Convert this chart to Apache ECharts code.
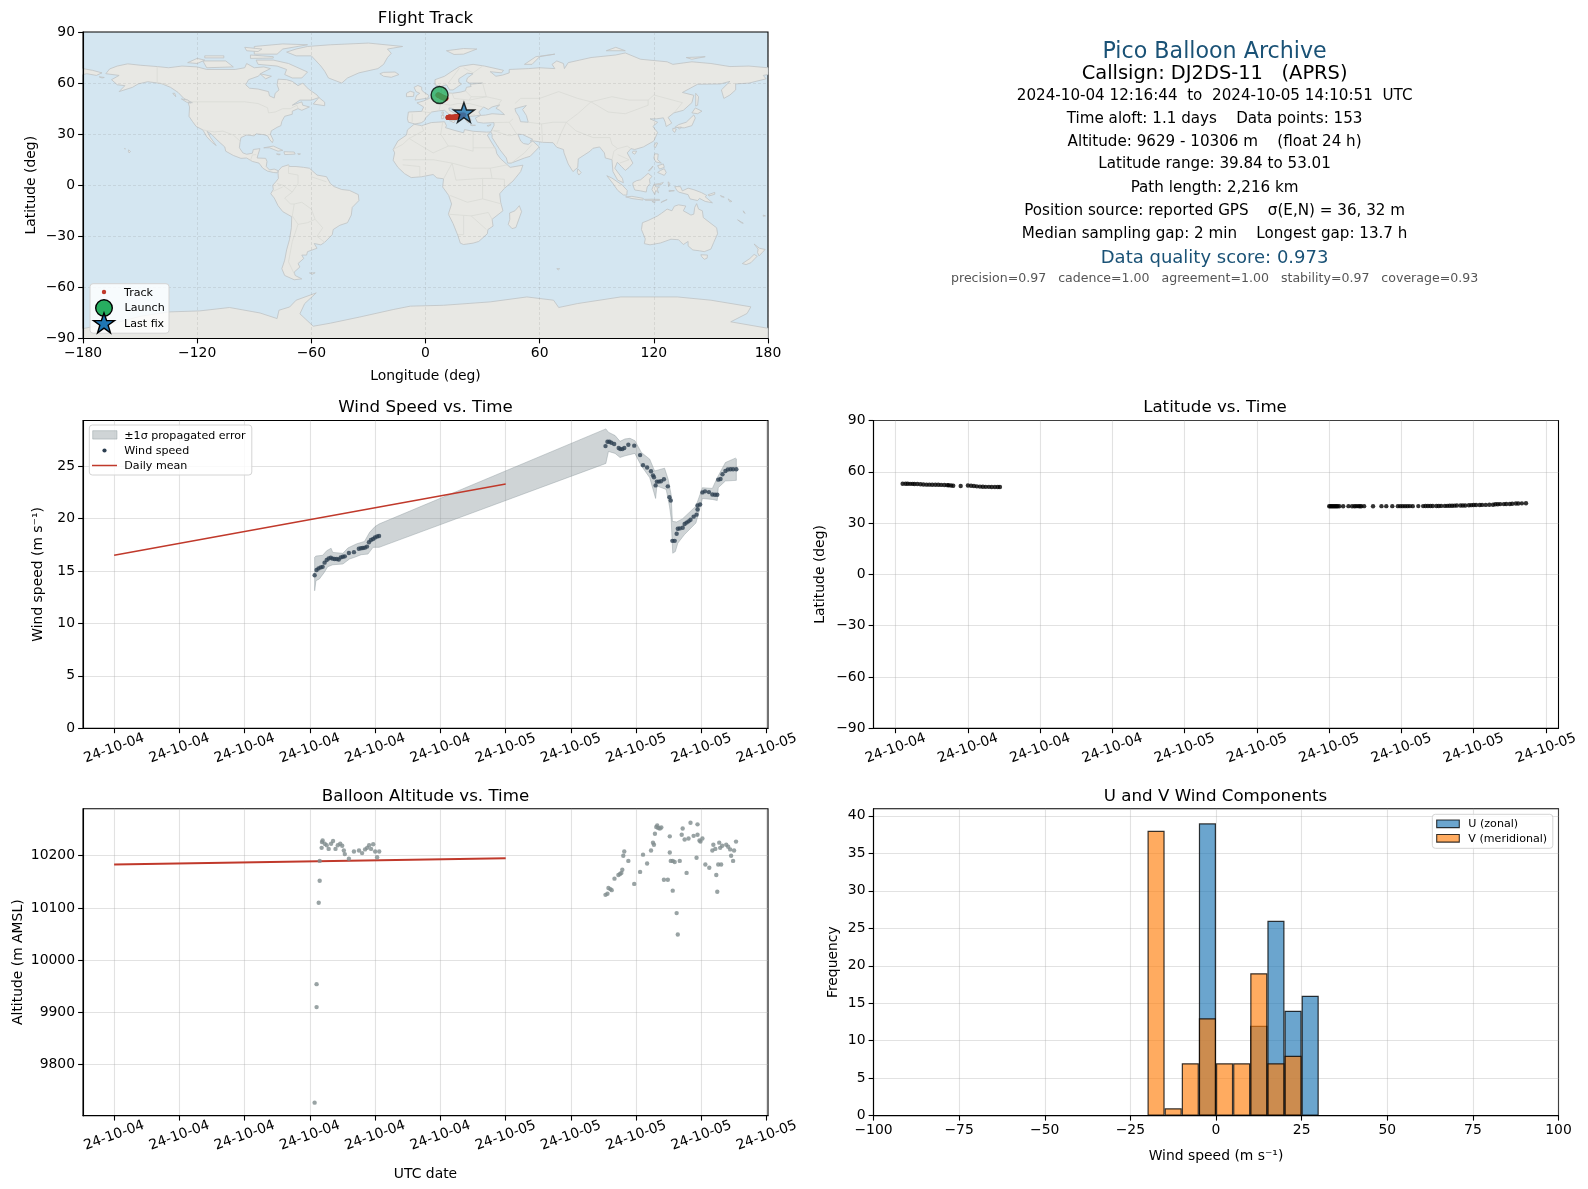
<!DOCTYPE html>
<html><head><meta charset="utf-8">
<style>html,body{margin:0;padding:0;background:#fff}#c{width:1588px;height:1189px}</style>
<script src="https://cdn.jsdelivr.net/npm/echarts@6/dist/echarts.min.js"></script>
</head><body><div id="c"></div>
<script>
// ---- chart data (time in hours since 2024-10-04 00:00 UTC) ----
const windTimes=[12.29,12.41,12.53,12.66,12.78,12.9,13.03,13.15,13.28,13.4,13.52,13.65,13.77,13.89,14.02,14.14,14.39,14.7,15.0,15.13,15.25,15.37,15.5,15.62,15.74,15.87,15.99,16.12,16.24,
30.12,30.24,30.36,30.48,30.65,30.93,31.03,31.15,31.27,31.52,31.88,32.24,32.42,32.67,32.91,33.03,33.09,33.19,33.27,33.39,33.52,33.7,33.94,34.04,34.12,34.22,34.36,34.48,34.55,34.67,34.85,34.97,35.09,35.21,35.33,35.52,35.7,35.76,35.76,35.92,36.06,36.22,36.46,36.67,36.83,36.97,37.03,37.17,37.29,37.47,37.62,37.78,37.94,38.14];
const windSpeeds=[14.6,15.1,15.25,15.35,15.4,15.8,16.05,16.2,16.27,16.18,16.15,16.15,16.1,16.3,16.37,16.4,16.72,16.8,17.13,17.17,17.2,17.23,17.33,17.74,17.96,18.06,18.2,18.3,18.35,
26.92,27.34,27.34,27.24,27.12,26.73,26.63,26.63,26.73,27.05,26.96,26.06,25.1,24.87,24.52,24.13,23.94,23.17,23.53,23.53,23.56,23.75,23.08,22.05,21.73,17.88,17.88,18.56,19.04,19.07,19.13,19.49,19.62,19.74,19.9,20.19,20.38,20.87,21.25,21.35,22.5,22.6,22.53,22.3,22.28,22.28,23.72,23.78,24.23,24.55,24.68,24.71,24.71,24.71];
const bandUpperTimes=[12.29,12.37,12.78,13.03,13.3,13.4,14.02,14.33,14.84,15.35,15.66,15.99,16.24,30.14,30.3,30.71,31.01,31.31,31.62,31.92,32.32,32.83,33.13,33.74,33.96,34.14,34.22,34.48,34.85,35.66,36.06,36.67,36.97,37.47,38.08,38.14];
const bandUpper=[16.31,16.43,16.5,16.94,17.17,16.78,16.69,17.2,17.58,17.83,18.69,19.24,19.49,28.56,28.24,27.92,27.37,27.6,27.66,27.44,26.31,25.67,24.55,24.81,23.75,22.31,19.74,19.68,20.0,21.19,22.95,22.88,23.91,25.35,25.77,25.7];
const bandLowerTimes=[12.29,12.37,12.58,12.88,13.09,13.4,14.02,14.43,14.74,15.15,15.56,15.87,16.24,30.14,30.3,30.71,31.01,31.31,31.92,32.32,32.83,33.19,33.27,33.84,34.04,34.14,34.24,34.4,34.55,34.95,35.66,35.86,36.06,36.67,36.97,37.03,37.47,38.14];
const bandLower=[13.12,14.08,14.24,14.87,15.41,15.6,15.67,16.15,16.31,16.56,16.62,17.26,17.26,25.26,26.41,26.22,25.83,25.99,26.22,25.03,23.91,21.92,23.11,22.79,21.19,20.06,16.7,16.86,17.66,18.46,19.58,20.71,21.92,21.83,21.73,22.95,23.59,23.65];
const dailyTimes=[0,24];
const dailyWind=[16.5,23.3];
const dailyAltitude=[10183,10195];

const altTimes=[12.29,12.41,12.41,12.54,12.6,12.6,12.72,12.74,12.78,12.91,13.03,13.15,13.3,13.42,13.57,13.71,13.86,13.98,14.08,14.14,14.39,14.7,15.01,15.2,15.38,15.51,15.63,15.75,15.88,16.0,16.12,16.25,
30.12,30.24,30.3,30.42,30.5,30.67,30.91,31.01,31.09,31.15,31.21,31.27,31.52,31.88,32.24,32.42,32.67,32.91,33.03,33.09,33.15,33.23,33.29,33.35,33.45,33.54,33.7,33.94,34.06,34.06,34.12,34.24,34.24,34.36,34.48,34.55,34.67,34.79,34.85,34.97,35.09,35.21,35.33,35.52,35.7,35.76,35.76,35.88,35.94,36.06,36.24,36.48,36.67,36.73,36.85,36.91,36.97,37.03,37.09,37.15,37.21,37.27,37.52,37.64,37.76,37.82,37.94,38.0,38.12];
const altitudes=[9727,9910,9954,10110,10152,10190,10215,10226,10229,10223,10220,10213,10223,10228,10213,10220,10223,10219,10210,10203,10194,10208,10210,10205,10212,10215,10220,10213,10222,10208,10197,10208,
10125,10127,10138,10136,10134,10156,10163,10165,10167,10173,10200,10208,10190,10146,10169,10202,10185,10210,10225,10221,10242,10255,10258,10253,10252,10254,10154,10154,10237,10206,10190,10190,10133,10188,10090,10049,10190,10240,10252,10231,10167,10233,10263,10238,10196,10260,10240,10229,10227,10233,10183,10177,10210,10221,10213,10163,10131,10183,10225,10215,10183,10219,10221,10217,10212,10200,10190,10210,10227];

const trackTimes=[12.29,12.41,12.5,12.6,12.7,12.78,12.9,13.03,13.15,13.28,13.4,13.52,13.65,13.77,13.89,14.02,14.14,14.2,14.3,14.39,14.7,15.0,15.13,15.25,15.37,15.5,15.62,15.74,15.87,15.99,16.12,16.24,16.33,
30.0,30.05,30.1,30.15,30.2,30.25,30.3,30.35,30.42,30.58,30.8,30.95,31.05,31.12,31.2,31.27,31.33,31.45,31.82,32.17,32.37,32.62,32.85,32.95,33.05,33.15,33.25,33.35,33.47,33.7,33.9,34.0,34.1,34.2,34.3,34.45,34.55,34.65,34.8,34.9,35.0,35.1,35.2,35.3,35.45,35.55,35.65,35.8,35.9,36.0,36.1,36.25,36.35,36.5,36.65,36.8,36.9,37.0,37.1,37.25,37.35,37.5,37.6,37.75,37.85,38.0,38.17];
const trackLats=[53.01,53.0,53.0,52.95,52.95,52.9,52.85,52.75,52.55,52.5,52.5,52.45,52.4,52.4,52.35,52.3,52.2,52.15,51.95,51.8,51.7,51.95,51.85,51.7,51.5,51.35,51.25,51.2,51.2,51.15,51.1,51.1,51.08,
39.84,39.85,39.86,39.86,39.87,39.87,39.88,39.88,39.88,39.89,39.9,39.88,39.88,39.9,39.9,39.88,39.88,39.9,39.88,39.9,39.9,39.92,39.9,39.92,39.92,39.9,39.92,39.95,39.92,39.95,39.95,39.98,39.98,40.0,40.0,40.02,40.02,40.05,40.05,40.1,40.12,40.15,40.2,40.25,40.25,40.3,40.32,40.4,40.5,40.55,40.6,40.62,40.65,40.65,40.7,40.75,41.05,41.05,41.1,41.1,41.15,41.2,41.3,41.45,41.5,41.55,41.6];
const trackLons=[6.5,6.6,6.7,6.8,6.9,7.0,7.1,7.2,7.3,7.4,7.5,7.6,7.7,7.8,7.9,8.0,8.1,8.2,8.3,8.4,8.6,8.8,8.9,9.0,9.2,9.4,9.6,9.8,10.0,10.2,10.4,10.6,10.8,
11.8,11.85,11.9,12.0,12.1,12.2,12.3,12.35,12.4,12.5,12.7,12.8,12.9,13.0,13.1,13.2,13.3,13.4,13.6,13.8,14.0,14.2,14.3,14.4,14.5,14.6,14.7,14.8,14.9,15.0,15.1,15.2,15.3,15.4,15.5,15.6,15.7,15.8,15.9,16.0,16.1,16.2,16.3,16.4,16.5,16.6,16.7,16.8,16.9,17.1,17.3,17.5,17.6,17.8,18.0,18.2,18.4,18.6,18.8,19.1,19.4,19.8,20.2];
const launchPoint=[7.4,53.01];
const lastFixPoint=[20.2,41.6];

const binCentersU=[-2.5,12.5,17.5,22.5,27.5];
const countsU=[39,12,26,14,16];
const binCentersV=[-17.5,-12.5,-7.5,-2.5,2.5,7.5,12.5,17.5,22.5];
const countsV=[38,1,7,13,7,7,19,7,8];

// tick labels
const windTimeTicks=[0,4,8,12,16,20,24,28,32,36,40];
const latTimeTicks=[12,15,18,21,24,27,30,33,36,39];
const dayLabels=['24-10-04','24-10-05'];
const windYTicks=[0,5,10,15,20,25];
const altYTicks=[9800,9900,10000,10100,10200];
const histYTicks=[0,5,10,15,20,25,30,35,40];

// map outlines [lon,lat]
const landShapes=[
[[-168,65.5],[-166,68.3],[-162,70],[-156.5,71.3],[-150,70.5],[-141,69.7],[-135,69],[-128,70],[-120,69.5],[-115,68],[-108,68],[-100,68],[-95,69],[-94,71.5],[-90,69],[-85,69.5],[-81.5,68.5],[-86,66],[-88,64],[-93,62],[-94.5,59],[-92.5,57],[-88,56.5],[-82.5,55],[-82,52.5],[-79.5,51.2],[-79,54],[-77,56],[-78,59],[-77.5,62.3],[-73,62],[-70,61],[-67,58.5],[-64.5,60],[-61.5,56.5],[-57,53],[-56,51.5],[-60,50],[-66,50],[-70,47],[-65,49],[-64.5,47],[-61,46],[-65,44],[-67,45],[-70,43.5],[-70,41.7],[-74,40.5],[-75.5,37.5],[-76,35],[-78,34],[-81,32],[-81.5,30],[-80,26.5],[-80.5,25],[-82,27],[-83,29],[-85,29.7],[-89,30.2],[-90,29],[-94,29.5],[-97,28],[-97.5,25],[-97.8,22],[-96,19],[-94,18.2],[-91,18.8],[-90.5,21],[-87,21.5],[-88,18],[-88.5,16],[-84,15.8],[-83.3,14],[-83.7,11],[-82,9],[-79.5,9.5],[-77.3,8.5],[-78,7.3],[-80,7.5],[-83,8.3],[-85.5,10],[-87.5,13],[-91,14],[-94,16],[-97,15.8],[-101,17.5],[-105,20],[-105.5,22.5],[-109,26],[-112.5,30],[-114.8,31.7],[-113,28],[-110,23.3],[-112,25],[-115,28.5],[-117,32.5],[-120.5,34.5],[-122.5,37.5],[-124.3,40.5],[-124,46],[-124.7,48.4],[-122.5,48.5],[-127,51],[-130,54.5],[-134,57.5],[-139,59.8],[-146,60.8],[-151,59.5],[-154,57.5],[-161,55],[-158,58.5],[-162,59],[-165,62],[-161,64.5]],
[[-73,78.2],[-68,76],[-60,76],[-55,70],[-53,67],[-51,63],[-44,60],[-41,63],[-35,66],[-25,68.5],[-22,71],[-20,75],[-18,77.5],[-20,80],[-12,81.5],[-30,83.5],[-50,82.5],[-62,81.5],[-68,80]],
[[-80,73.5],[-72,71.5],[-67,69],[-62,66.5],[-65,63],[-70,63],[-74,65],[-73,68],[-78,70],[-88,71],[-89,73.5]],
[[-117,73],[-105,73],[-101,69.5],[-115,69]],
[[-90,77],[-78,77],[-75,80],[-62,82.5],[-75,83],[-90,81.5]],
[[-92,76.5],[-80,75.5],[-80,74.7],[-92,74.5]],
[[-125,72],[-120,74.5],[-116,73.5],[-120,71.5]],
[[-116,76],[-106,76],[-106,74.8],[-116,74.8]],
[[-95,81],[-86,80],[-88,78.5],[-94,79]],
[[-87,65.5],[-81,64],[-84,62.5]],
[[-59,47.7],[-53,46.7],[-53,48.8],[-56,51.5]],
[[-85,22],[-80,23],[-75,20.5],[-77.5,20],[-82,22]],
[[-74.4,19.7],[-69,19.5],[-68.5,18.3],[-74,18]],
[[-78.3,18.4],[-76.3,18.2],[-77,17.8]],
[[-67.2,18.5],[-65.7,18.4],[-66.5,18]],
[[-156,20.8],[-155,19.8],[-155.8,19],[-156.2,20]],
[[-158.2,21.6],[-157.7,21.4],[-158,21.2]],
[[-128.3,50.7],[-125,50],[-123.5,48.4],[-125.5,48.8]],
[[-132.8,54],[-131.8,54],[-131.2,52],[-132,52.8]],
[[-180,68.5],[-175,67.5],[-170,66],[-173,64.5],[-178,65.5],[-180,65]],
[[-171.5,63.7],[-168.8,63.3],[-170,63]],
[[-77.3,8.5],[-75.5,10.8],[-72,12],[-71.5,11],[-68,11],[-64,10.5],[-61,10],[-57,6],[-52,5],[-50,1],[-48,-0.8],[-44,-2.5],[-40,-3],[-35.3,-5.5],[-35,-9],[-38.5,-13],[-39,-17.5],[-41,-22],[-45,-23.5],[-48.5,-26],[-49,-29],[-53,-33.5],[-55,-35],[-58.5,-34.2],[-57,-37],[-62,-39],[-62.5,-41],[-65,-41],[-64,-43],[-67,-46],[-66,-48],[-69,-51],[-68.5,-53],[-65,-55],[-69,-55.5],[-74,-53],[-75.5,-49],[-74,-44],[-73,-38],[-71.5,-32],[-70.5,-25],[-70.3,-18.5],[-75,-15.5],[-77.5,-12],[-79.5,-7.5],[-81.3,-5],[-80,-2.5],[-80.3,0],[-78.7,2],[-77.3,4],[-77.5,7]],
[[-61,-51.5],[-58,-51.4],[-59.5,-52.3]],
[[-6,35.8],[-2,35],[3,36.8],[10,37.3],[11,35],[10.5,33.8],[15,32.3],[20,30.8],[20.5,32.7],[25,31.7],[32,31.2],[34.2,31.3],[32.5,29.5],[34,26.5],[37,21],[37.5,18.5],[39.5,15.5],[43,12],[44.5,10.5],[51.2,11.8],[50,8],[46,2.5],[41.5,-1.8],[39,-5],[39.5,-10],[40.7,-15],[35,-20],[35.5,-24],[32.8,-26],[32.5,-28.5],[28,-33],[25,-34],[20,-34.8],[18.3,-34],[17,-29.5],[14.5,-22.5],[12,-17],[13.7,-11],[12.2,-6],[9,-1],[9.5,3.8],[6,4.3],[4,6.3],[-2,5],[-7.5,4.5],[-11,6.8],[-14.5,10.5],[-17,14.7],[-16.2,19],[-17,21],[-14.5,26],[-10,29.5],[-9.5,32.5]],
[[-9,37],[-9.5,39],[-9,43],[-2,43.4],[-1,46],[-4.5,48.4],[-1,49.5],[2,51],[4.5,52.5],[8,54],[8.5,57],[10.5,57.5],[10,54.5],[14,54],[18.5,54.7],[21,55.5],[21.5,57.5],[24,58],[23.5,59.3],[30,60],[23,60],[21.5,61],[22,63],[25,65.5],[22,65.8],[17.5,62.5],[17.5,60.5],[19,59.5],[16.5,57.5],[14.5,56],[12.7,56],[11,59],[8,58],[5,59],[5,62],[10,64],[14,67],[18,69.8],[25,71],[31,70],[41,67.5],[40,66],[34,66.7],[37,64],[40.5,64.7],[44,66],[44,68],[54,68.5],[60,69],[68,68.5],[66.5,71],[69,73],[72.5,71.5],[73,68.5],[75,72],[81,73.5],[87,75],[100,76.5],[105,77.7],[113,74],[127,72.5],[130,71],[140,72.5],[150,71.5],[160,69.7],[170,70],[180,69],[180,65],[177.5,64.5],[179,62.5],[170,60],[163,59.5],[163,56],[160,53],[156.8,51],[155.5,56],[160,61],[155,59.5],[143,59.3],[135,54.5],[141,52.8],[140,48.5],[135.5,44],[130.5,42.5],[127.5,39.8],[129.4,36.5],[126.5,34.5],[126,37],[125,39.6],[121.5,39],[118,39],[122,37],[119.5,34.5],[122,31],[120,26],[114.5,22.5],[110,21],[108,21.5],[106,19],[109,13],[107,10.5],[105,8.7],[103,11],[100.8,13.5],[99.5,10],[103.5,4],[104,1.5],[101,3],[98.5,8],[98,15],[94.5,16],[94,19],[91.5,22.5],[88,21.7],[86.5,20],[80.3,15.5],[80,10.5],[77.5,8],[75,12.5],[72.8,19],[72.5,21],[69,22.3],[67,25],[61.5,25.2],[57,26],[55,26],[56.3,27],[51,29.8],[48.5,30],[50,26],[51.5,24.5],[54,24],[56.3,26],[59.8,22.5],[55,17],[52,16],[45,13],[43.2,13],[42.5,16],[39,21],[35,28],[35,30],[34.3,31.3],[36,35],[36,36.8],[30.5,36.5],[27.3,37],[26.2,39.5],[29,41],[31.5,41.2],[35,42],[41.5,41.5],[39,44],[37,45.2],[39,47.2],[35,46],[33,44.5],[30.5,46],[28,43],[29,41.2],[26,40.7],[23,40.5],[24,38],[22.5,36.5],[21,38.5],[19.5,41],[19,42.3],[14,45.2],[12.3,45.4],[12.5,44],[16,41.8],[18.4,40],[16.7,40],[16,38],[15.5,40],[12.3,41.7],[10,44],[7,43.7],[3.2,43],[0,39.5],[-0.5,38],[-2.2,36.7],[-5.5,36]],
[[-5.5,50],[1.3,51.2],[1.7,52.8],[-1,54.7],[-2,56],[-2,57.6],[-4,58.6],[-6,57.5],[-5,55],[-3,54],[-4.7,52.7],[-5,51.7]],
[[-10,52],[-6.3,52.2],[-6,54.5],[-8,55.2],[-10,54]],
[[-24,65.5],[-22,64],[-18,63.4],[-14,65],[-16,66.5],[-22,66.3]],
[[11,79],[20,80.3],[27,80],[20,77],[15,76.8]],
[[52,71],[56,71],[60,75.5],[68,77],[58,75.5]],
[[95,79],[105,79],[100,81]],
[[137,75],[147,75.5],[140,74]],
[[142,54],[143.5,52],[143,47],[142,46.5],[142,50]],
[[131,34],[136,33.7],[140,35],[141.8,39.5],[141,41.3],[139.8,40],[137,37],[133,35.6]],
[[140,42.5],[141.8,45.4],[145.3,43.5],[143,42]],
[[130,33.5],[131.8,33],[131,31],[130,32]],
[[132.5,34],[134.5,34.2],[133.5,33]],
[[121,25],[122,24.8],[120.8,22],[120.1,23]],
[[109,20],[111,20],[110,18.2],[108.7,19]],
[[120.5,18.5],[122.3,18.3],[122,15],[124,13],[121,13.7],[120,16]],
[[122,7.5],[123.5,8.7],[125.5,9.7],[126.5,7.5],[125.5,5.8],[124,6.5]],
[[122,11.5],[125,12.5],[125.5,10.5],[123,9.5]],
[[117.2,8.5],[119.5,11.3],[119.3,10.5],[117.8,8.5]],
[[109,1.5],[111,2.7],[113,3.2],[115,5],[117,7],[119,5.2],[117.7,3.5],[118,1],[116.5,-1],[116,-4],[113,-3.3],[110,-2.8],[109,0]],
[[95.3,5.6],[98,4.2],[103.5,0],[106,-3],[105.8,-5.8],[104,-5.7],[101,-3],[98.5,1]],
[[105.2,-6.8],[108.5,-6.5],[114.5,-7.7],[114.3,-8.7],[108.5,-7.8]],
[[115,-8.3],[119,-8.2],[123,-8.3],[123,-8.9],[119,-8.9],[115.5,-8.8]],
[[119,-9.5],[120.8,-9.8],[120,-10.2]],
[[123.7,-10.2],[127,-8.4],[124.5,-9.5]],
[[119.5,-3.5],[119,-2.5],[120,0.5],[123,1],[125,1.6],[124,0.5],[120.5,0],[121,-1],[123,-1],[121.7,-2],[122.5,-4.5],[121,-3],[120.5,-5.5]],
[[127.5,2],[128.5,1],[127.8,-0.8]],
[[128,-3],[130.8,-3.2],[128,-3.7]],
[[131,-0.8],[134,-0.8],[135,-3.3],[138,-1.7],[141,-2.6],[145,-4.3],[147.8,-6],[147,-6.8],[150.8,-10.3],[147,-9.5],[144,-7.7],[143,-9],[139,-8],[138,-5.5],[133,-4],[132,-2.8]],
[[148.5,-5.6],[152,-4.2],[152,-5.3],[149,-6.3]],
[[155,-6],[157,-7],[155.5,-6.8]],
[[159,-8],[161,-9.5],[160,-9.8]],
[[164,-20.3],[167,-22.3],[166,-22]],
[[167,-15],[168,-16.5],[167.2,-16]],
[[177.5,-17.5],[178.7,-18],[177.5,-18.2]],
[[114,-22],[113.5,-26],[115.5,-31.5],[115,-34.3],[118,-35],[123.5,-33.9],[129,-31.7],[133,-32],[135.5,-34.8],[138,-33],[138,-35.6],[140.5,-38],[144,-38.5],[146.5,-39],[150,-37.5],[151.5,-33.5],[153.5,-28.5],[153,-25],[149.5,-22],[146,-19],[145.5,-15],[143.5,-14],[142.5,-10.8],[141.5,-13],[141,-17],[139.5,-17.5],[135.5,-15],[136.8,-12.2],[133,-11.5],[130.8,-12.3],[129.5,-15],[127,-14],[124,-16.5],[122,-18],[117,-20.7]],
[[144.7,-40.8],[148.2,-41],[148,-42.8],[146.5,-43.5],[145.2,-42]],
[[172.7,-34.5],[175.5,-37],[178.5,-37.7],[177,-39.5],[175.3,-41.5],[174.5,-39.5],[174.8,-37.5]],
[[172.7,-40.6],[174.3,-41.7],[171,-45.5],[168.5,-46.6],[166.5,-46],[170.5,-43]],
[[49.3,-12],[50.5,-15.5],[47.5,-24.8],[45.5,-25.5],[43.5,-23],[44.3,-20],[44.2,-16.3],[47,-15]],
[[80,9.7],[81.8,7.5],[80.6,6],[79.8,7.5]],
[[69,-49],[70.5,-49],[69.8,-49.7]],
[[8.3,41],[9.7,41],[9.5,39.2],[8.5,39]],
[[8.6,43],[9.5,43],[9.3,41.5],[8.8,41.6]],
[[12.5,38],[15.6,38.2],[15,36.7]],
[[23.5,35.5],[26.3,35.2],[24.5,35]],
[[32.3,35],[34.5,35.6],[33,34.6]],
[[-180,-84.2],[-160,-80],[-150,-77],[-135,-74.4],[-118.7,-73.8],[-103,-71.8],[-87,-75],[-78,-78.3],[-77,-73.4],[-71.4,-71.5],[-68,-67.5],[-57.4,-63.2],[-63.5,-69.5],[-66,-75.5],[-59,-82.8],[-50,-81],[-34.6,-77.4],[-17,-73],[-8,-71],[9.4,-70.5],[34,-68.5],[53.3,-65.6],[67.3,-67.5],[70,-71.8],[79.8,-69.5],[102.6,-65.6],[132.4,-65.6],[150,-67.5],[171,-71.4],[169,-75.3],[160.4,-80.2],[180,-84],[180,-90],[-180,-90]]
];
const seaShapes=[[[47,45],[53,46.8],[51,44.5],[53,41],[54,37],[50,37.3],[49,40.5],[47.5,43]]];
const borderLines=[
[[-123,49],[-95,49],[-88,48],[-83,45.5],[-82.5,42.5],[-79,43],[-75,45],[-71,45],[-67.5,47],[-67,45]],
[[-141,69.7],[-141,60],[-135,59]],
[[-117,32.5],[-111,31.3],[-106.5,31.8],[-101,29.5],[-97.5,26]],
[[-92,14.5],[-91,17.8],[-89,18]],
[[-72,12],[-72,7],[-67,6],[-67,1],[-70,-4],[-74,-7.5],[-71,-11],[-69,-11],[-65,-10],[-60,-14],[-58,-20],[-54,-25],[-57,-30],[-53,-33.5]],
[[-78,1],[-75,0],[-70,-4]],[[-80,-3.5],[-75,-1]],[[-70,-18],[-69,-11]],[[-70,-18],[-67,-23],[-70,-33],[-72,-45],[-69,-52]],[[-67,-23],[-62,-22],[-58,-20]],[[-60,8],[-60,5],[-52,2]],
[[-2,35],[-1,32],[-8.6,27.5],[-12,24],[-17,21]],[[9,37],[8,30],[12,23],[15,23],[25,20],[25,31.7]],[[25,22],[37,22]],[[12,23],[4,19],[-5,25],[-8.6,27.5]],[[-12,15],[-5,15],[4,15],[14,13],[24,10],[34,10],[43,12]],[[34,10],[35,4],[41.5,3.5],[41.5,-1.8]],[[9.5,3.8],[14,13]],[[14,13],[16,3],[30,4],[35,4]],[[30,4],[30,-8],[40,-11]],[[13,-6],[22,-10],[30,-8]],[[12,-17],[24,-18],[33,-16],[35,-20]],[[20,-18],[20,-29],[17,-29]],[[24,-18],[32,-26]],[[-3,5],[-3,11],[-12,12]],
[[50,51],[60,51],[70,55],[80,51],[87,49],[98,52],[107,50],[117,50],[120,53],[135,48.5],[131,43]],[[87,49],[96,43],[105,42],[117,47],[117,50]],[[74,37],[80,42],[87,49]],[[74,37],[79,32],[88,28],[97,28],[98,24],[101,21.5],[106,23],[108,21.5]],[[61,36],[61.5,25.2]],[[54,37],[61,36],[67,37],[74,37]],[[74,37],[71,30],[69,24]],[[50,51],[47,48]],[[44,37],[48,30]],[[36,36.8],[44,37],[46,39]],[[36,32],[44,29],[48,30]],[[35,32],[39,32]],[[45,13],[52,19],[56,24]],[[98,15],[99,20],[101,21.5]],[[102,13],[107,15],[101,18]],
[[2,51],[6,50],[8,48],[7,43.7]],[[-1.8,43.3],[3,42.5]],[[-7,42],[-7,37.2]],[[14,54],[15,51],[23,50],[24,52],[21,55.5]],[[8,48],[13,47],[17,48],[23,48],[30,46]],[[23,50],[32,52],[40,50],[38,47]],[[24,52],[32,52],[30,60]],[[19,42.3],[23,41],[26,41.5]],[[7,54.5],[14,54]],[[20,69],[25,66],[30,70]],[[12,60],[18,69]]
];

const starUnit=[[50,0],[61.8,34.5],[97.6,34.5],[68.8,55.9],[79.4,90.5],[50,69],[20.6,90.5],[31.2,55.9],[2.4,34.5],[38.2,34.5]];
const starPath='path://M'+starUnit.map(p=>p.join(',')).join(' L')+' Z';

const F='DejaVu Sans';
const tickFont={fontFamily:F,fontSize:13.9,color:'#000'};
const gridLine={show:true,lineStyle:{color:'#b0b0b0',opacity:0.36,width:1.1}};
const uminus=v=>String(v).replace('-','\u2212');

function baseAxis(extra){return Object.assign({type:'value',axisLine:{show:true,onZero:false,lineStyle:{color:'#000',width:1.1}},axisTick:{show:true,length:4.9,lineStyle:{color:'#000',width:1.1}},splitLine:gridLine,nameTextStyle:{fontFamily:F,fontSize:13.9,color:'#000'},nameLocation:'middle'},extra);}
function custom(ticks){return {axisTick:{show:true,length:4.9,lineStyle:{color:'#000',width:1.1},customValues:ticks},splitLine:Object.assign({},gridLine,{customValues:ticks})};}
function timeAxis(idx,ticks,min,max,name){
  return baseAxis(Object.assign({gridIndex:idx,min,max,name:name||'',nameGap:52},custom(ticks),{
    axisLabel:Object.assign({},tickFont,{customValues:ticks,rotate:20,align:'center',verticalAlign:'middle',margin:20,hideOverlap:false,formatter:v=>dayLabels[v<24?0:1]})
  }));
}
function yAxisCustom(idx,ticks,min,max,name,gap,fmt){
  return baseAxis(Object.assign({gridIndex:idx,min,max,name,nameGap:gap,nameRotate:90},custom(ticks),{
    axisLabel:Object.assign({},tickFont,{customValues:ticks,margin:8,formatter:fmt||(v=>String(v))})
  }));
}

const grids=[
 {left:83,top:32,width:685,height:306.5,show:true,backgroundColor:'#d4e6f1',borderColor:'#000',borderWidth:1.1},
 {left:83,top:420.5,width:685,height:307.8,show:true,borderColor:'#000',borderWidth:1.1},
 {left:873.5,top:420.5,width:685,height:307.8,show:true,borderColor:'#000',borderWidth:1.1},
 {left:83,top:808.7,width:685,height:307,show:true,borderColor:'#000',borderWidth:1.1},
 {left:873.5,top:808.7,width:685,height:307,show:true,borderColor:'#000',borderWidth:1.1}
];
const mapGrid={show:true,lineStyle:{color:'#808080',opacity:0.22,width:0.8,type:[3,2]}};
const xAxes=[
 baseAxis({gridIndex:0,min:-180,max:180,interval:60,z:3,name:'Longitude (deg)',nameGap:31,splitLine:mapGrid,axisLabel:Object.assign({},tickFont,{margin:8,formatter:uminus})}),
 timeAxis(1,windTimeTicks,-1.908,40.08),
 timeAxis(2,latTimeTicks,11.08,39.52),
 timeAxis(3,windTimeTicks,-1.908,40.08,'UTC date'),
 baseAxis({gridIndex:4,min:-100,max:100,interval:25,name:'Wind speed (m s\u207B\u00B9)',nameGap:34,axisLabel:Object.assign({},tickFont,{margin:8,formatter:uminus})})
];
const yAxes=[
 baseAxis({gridIndex:0,min:-90,max:90,interval:30,z:3,name:'Latitude (deg)',nameGap:45,nameRotate:90,splitLine:mapGrid,axisLabel:Object.assign({},tickFont,{margin:8,formatter:uminus})}),
 yAxisCustom(1,windYTicks,0,29.36,'Wind speed (m s\u207B\u00B9)',38),
 baseAxis({gridIndex:2,min:-90,max:90,interval:30,name:'Latitude (deg)',nameGap:46,nameRotate:90,axisLabel:Object.assign({},tickFont,{margin:8,formatter:uminus})}),
 yAxisCustom(3,altYTicks,9702,10290,'Altitude (m AMSL)',58),
 yAxisCustom(4,histYTicks,0,40.95,'Frequency',33)
];

const polyItem=(shapes,style)=>(params,api)=>{
  const pts=shapes[params.dataIndex].map(p=>api.coord(p));
  return {type:'polygon',shape:{points:pts},style};
};
const bandFill='rgba(128,142,148,0.38)';
const bandPolygon=(params,api)=>{
  if(params.dataIndex!==0) return null;
  const up=bandUpperTimes.map((t,i)=>api.coord([t,bandUpper[i]]));
  const lo=bandLowerTimes.map((t,i)=>api.coord([t,bandLower[i]])).reverse();
  return {type:'polygon',shape:{points:up.concat(lo)},style:{fill:bandFill,stroke:bandFill,lineWidth:1}};
};
const zip=(a,b)=>a.map((v,i)=>[v,b[i]]);
const binWidthPx=grids[4].width*5/200;
const noAnim={animation:false,silent:true};

const series=[
 Object.assign({type:'custom',name:'Land',xAxisIndex:0,yAxisIndex:0,z:1,data:landShapes.map(s=>[s[0][0],s[0][1]]),renderItem:polyItem(landShapes,{fill:'#e8e8e4',stroke:'#bfc3c4',lineWidth:0.8})},noAnim),
 Object.assign({type:'custom',name:'Inland sea',xAxisIndex:0,yAxisIndex:0,z:1,data:seaShapes.map(s=>[s[0][0],s[0][1]]),renderItem:polyItem(seaShapes,{fill:'#d4e6f1',stroke:'#bfc3c4',lineWidth:0.8})},noAnim),
 Object.assign({type:'lines',name:'Borders',coordinateSystem:'cartesian2d',xAxisIndex:0,yAxisIndex:0,polyline:true,z:1,data:borderLines.map(l=>({coords:l})),lineStyle:{color:'#d9dad6',width:0.8,opacity:1}},noAnim),
 Object.assign({type:'scatter',name:'Track',xAxisIndex:0,yAxisIndex:0,z:5,symbolSize:5,itemStyle:{color:'#c0392b'},data:zip(trackLons,trackLats)},noAnim),
 Object.assign({type:'scatter',name:'Launch',xAxisIndex:0,yAxisIndex:0,z:6,symbolSize:17,itemStyle:{color:'#27ae60',borderColor:'#000',borderWidth:1.4},data:[launchPoint]},noAnim),
 Object.assign({type:'scatter',name:'Last fix',xAxisIndex:0,yAxisIndex:0,z:7,symbol:starPath,symbolKeepAspect:true,symbolSize:21,symbolOffset:[0,-2],itemStyle:{color:'#1f77b4',borderColor:'#000',borderWidth:1.4},data:[lastFixPoint]},noAnim),

 Object.assign({type:'custom',name:'\u00B11\u03C3 propagated error',xAxisIndex:1,yAxisIndex:1,z:2,data:[[bandUpperTimes[0],bandUpper[0]]],renderItem:bandPolygon},noAnim),
 Object.assign({type:'scatter',name:'Wind speed',xAxisIndex:1,yAxisIndex:1,z:4,symbolSize:4.4,itemStyle:{color:'#2c3e50'},data:zip(windTimes,windSpeeds)},noAnim),
 Object.assign({type:'line',name:'Daily mean',xAxisIndex:1,yAxisIndex:1,z:3,showSymbol:false,lineStyle:{color:'#c0392b',width:1.5},data:zip(dailyTimes,dailyWind)},noAnim),

 Object.assign({type:'scatter',name:'Latitude',xAxisIndex:2,yAxisIndex:2,z:3,symbolSize:4.4,itemStyle:{color:'#000'},data:zip(trackTimes,trackLats)},noAnim),

 Object.assign({type:'line',name:'Daily altitude mean',xAxisIndex:3,yAxisIndex:3,z:3,showSymbol:false,lineStyle:{color:'#c0392b',width:2},data:zip(dailyTimes,dailyAltitude)},noAnim),
 Object.assign({type:'scatter',name:'Altitude',xAxisIndex:3,yAxisIndex:3,z:4,symbolSize:4.4,itemStyle:{color:'#7f8c8d'},data:zip(altTimes,altitudes)},noAnim),

 Object.assign({type:'bar',name:'U (zonal)',xAxisIndex:4,yAxisIndex:4,z:2,barWidth:binWidthPx,barGap:'-100%',itemStyle:{color:'rgba(31,119,180,0.66)',borderColor:'rgba(0,0,0,0.78)',borderWidth:1.2},data:zip(binCentersU,countsU)},noAnim),
 Object.assign({type:'bar',name:'V (meridional)',xAxisIndex:4,yAxisIndex:4,z:3,barWidth:binWidthPx,barGap:'-100%',itemStyle:{color:'rgba(255,127,14,0.66)',borderColor:'rgba(0,0,0,0.78)',borderWidth:1.2},data:zip(binCentersV,countsV)},noAnim)
];

const panelTitles=[['Flight Track',425.5,17.4],['Wind Speed vs. Time',425.5,406.4],['Latitude vs. Time',1215,406.4],['Balloon Altitude vs. Time',425.5,795.5],['U and V Wind Components',1215.5,795.5]];
const infoLines=[
 ['Pico Balloon Archive',52.3,22.2,'#1a5276'],
 ['Callsign: DJ2DS-11   (APRS)',74.3,19.44,'#000'],
 ['2024-10-04 12:16:44  to  2024-10-05 14:10:51  UTC',96,15.15,'#000'],
 ['Time aloft: 1.1 days    Data points: 153',119,15.15,'#000'],
 ['Altitude: 9629 - 10306 m    (float 24 h)',142,15.15,'#000'],
 ['Latitude range: 39.84 to 53.01',164.5,15.15,'#000'],
 ['Path length: 2,216 km',187.8,15.15,'#000'],
 ['Position source: reported GPS    \u03C3(E,N) = 36, 32 m',211,15.15,'#000'],
 ['Median sampling gap: 2 min    Longest gap: 13.7 h',234.2,15.15,'#000'],
 ['Data quality score: 0.973',258.8,18,'#1a5276'],
 ['precision=0.97   cadence=1.00   agreement=1.00   stability=0.97   coverage=0.93',278.7,12.57,'#555']
];

function txt(t,x,y,size,fill,align){return {type:'text',silent:true,z:50,style:{text:t,x,y,fontFamily:F,fontSize:size,fill,align:align||'center',verticalAlign:'middle'}};}
function box(x,y,w,h){return {type:'rect',silent:true,z:40,shape:{x,y,width:w,height:h,r:3},style:{fill:'rgba(255,255,255,0.82)',stroke:'#d4d4d4',lineWidth:1}};}
function marker(kind,x,y,r,fill){
  if(kind==='dot')return {type:'circle',silent:true,z:45,shape:{cx:x,cy:y,r},style:{fill}};
  if(kind==='circle')return {type:'circle',silent:true,z:45,shape:{cx:x,cy:y,r},style:{fill,stroke:'#000',lineWidth:1.4}};
  if(kind==='star')return {type:'polygon',silent:true,z:46,shape:{points:starUnit.map(p=>[x+(p[0]-50)*r/50,y+(p[1]-50)*r/50])},style:{fill,stroke:'#000',lineWidth:1.4}};
}
const graphics=[];
infoLines.forEach(l=>graphics.push(txt(l[0],1214.6,l[1],l[2],l[3])));
// map legend
graphics.push(box(90,283.7,79,49.5),marker('dot',104,292,2.2,'#c0392b'),txt('Track',124,293,11.1,'#000','left'),
 marker('circle',104,308,8.3,'#27ae60'),txt('Launch',124.5,308.5,11.1,'#000','left'),
 marker('star',104,324,11,'#1f77b4'),txt('Last fix',124,324,11.1,'#000','left'));
// wind legend
graphics.push(box(89.3,425,162.5,50),
 {type:'rect',silent:true,z:45,shape:{x:92.7,y:430.7,width:24.3,height:8.4},style:{fill:bandFill,stroke:bandFill,lineWidth:1}},
 txt('\u00B11\u03C3 propagated error',124.3,436,11.1,'#000','left'),
 marker('dot',104.5,450.5,2.1,'#2c3e50'),txt('Wind speed',124.3,451,11.1,'#000','left'),
 {type:'line',silent:true,z:45,shape:{x1:92,y1:465.5,x2:117,y2:465.5},style:{stroke:'#c0392b',lineWidth:1.5}},
 txt('Daily mean',124.3,466.5,11.1,'#000','left'));
// histogram legend
graphics.push(box(1432.3,814.3,120.5,34),
 {type:'rect',silent:true,z:45,shape:{x:1436.7,y:820,width:22.6,height:7.6},style:{fill:'rgba(31,119,180,0.66)',stroke:'rgba(0,0,0,0.78)',lineWidth:1.1}},
 txt('U (zonal)',1468.3,824.5,11.1,'#000','left'),
 {type:'rect',silent:true,z:45,shape:{x:1436.7,y:834.5,width:22.6,height:7.6},style:{fill:'rgba(255,127,14,0.66)',stroke:'rgba(0,0,0,0.78)',lineWidth:1.1}},
 txt('V (meridional)',1468.3,839,11.1,'#000','left'));

const chart=echarts.init(document.getElementById('c'),null,{renderer:'canvas',width:1588,height:1189});
chart.setOption({
 animation:false,backgroundColor:'#fff',
 title:panelTitles.map(t=>({text:t[0],left:t[1],top:t[2]-7,textAlign:'center',padding:0,textStyle:{fontFamily:F,fontSize:16.67,fontWeight:'normal',color:'#000'}})),
 grid:grids,xAxis:xAxes,yAxis:yAxes,series,graphic:{elements:graphics}
});
</script></body></html>
